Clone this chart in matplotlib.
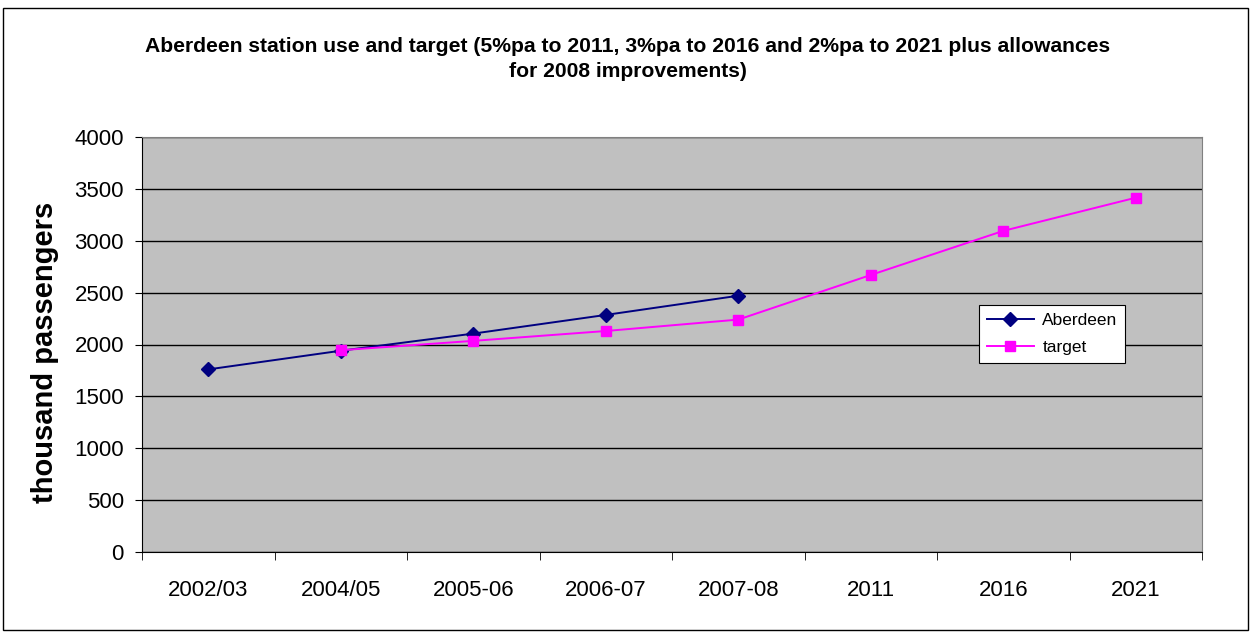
import numpy as np
import matplotlib
matplotlib.use("Agg")
import matplotlib.pyplot as plt
from matplotlib.patches import Rectangle

plt.rcParams['font.family'] = ['Liberation Sans', 'DejaVu Sans']

# Data
categories = ["2002/03", "2004/05", "2005-06", "2006-07", "2007-08", "2011", "2016", "2021"]
aberdeen = [1760, 1940, 2105, 2285, 2470]
target = [np.nan, 1945, 2035, 2130, 2240, 2670, 3095, 3415]
yticks = [0, 500, 1000, 1500, 2000, 2500, 3000, 3500, 4000]

W, H = 1253, 635
fig = plt.figure(figsize=(W / 100, H / 100), dpi=100)
fig.patch.set_facecolor("white")

# outer chart border
fig.add_artist(Rectangle((3 / W, 5 / H), 1245 / W, 622 / H, transform=fig.transFigure,
                         fill=False, edgecolor="black", linewidth=1.0))

ax = fig.add_axes([142 / W, (H - 552) / H, 1060 / W, 415 / H])
ax.set_facecolor("#c0c0c0")

x = np.arange(len(categories))
ax.plot(x[:len(aberdeen)], aberdeen, color="#000080", marker="D", markersize=7,
        linewidth=1.4, label="Aberdeen", zorder=3)
ax.plot(x, target, color="#ff00ff", marker="s", markersize=7.5,
        linewidth=1.4, label="target", zorder=3)

ax.set_xlim(-0.5, len(categories) - 0.5)
ax.set_ylim(0, 4000)
ax.set_yticks(yticks)
ax.tick_params(axis="y", labelsize=16, direction="out", length=5, pad=8)
ax.grid(axis="y", color="black", linewidth=1.0)
ax.set_axisbelow(True)

ax.set_xticks(x)
ax.set_xticklabels(categories, fontsize=16)
ax.tick_params(axis="x", length=0, pad=20)
ax.set_xticks(np.arange(-0.5, len(categories)), minor=True)
ax.tick_params(axis="x", which="minor", direction="out", length=6)

for side in ["top", "right"]:
    ax.spines[side].set_color("#808080")
for side in ["left", "bottom"]:
    ax.spines[side].set_color("black")

ax.set_ylabel("thousand passengers", fontsize=21, fontweight="bold")
ax.yaxis.set_label_coords(-0.078, 0.482)

fig.text(628 / W, 1 - 59 / H,
         "Aberdeen station use and target (5%pa to 2011, 3%pa to 2016 and 2%pa to 2021 plus allowances\nfor 2008 improvements)",
         ha="center", va="center", fontsize=15.2, fontweight="bold", linespacing=1.45)

leg = ax.legend(loc="upper left", bbox_to_anchor=(979 / W, 1 - 305 / H),
                bbox_transform=fig.transFigure, fontsize=12.5, frameon=True,
                fancybox=False, edgecolor="black", framealpha=1, borderpad=0.45,
                handlelength=2.7, handletextpad=0.5, labelspacing=0.7,
                borderaxespad=0)
leg.get_frame().set_linewidth(0.8)

fig.savefig("out.png", dpi=100)
